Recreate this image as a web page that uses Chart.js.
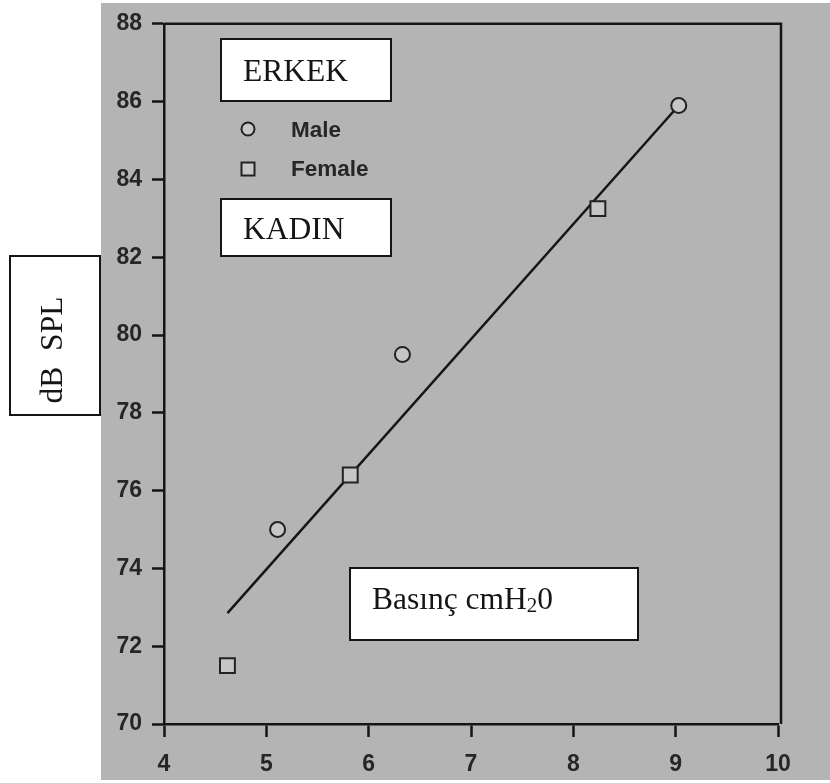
<!DOCTYPE html>
<html>
<head>
<meta charset="utf-8">
<script src="https://cdn.jsdelivr.net/npm/chart.js@4.4.1/dist/chart.umd.min.js"></script>
<style>
html, body { margin: 0; padding: 0; background: #fff; }
</style>
</head>
<body>
<canvas id="myChart" width="830" height="783"></canvas>
<script>
// values
const maleX = [5.11, 6.33, 9.03];
const maleY = [75.0, 79.5, 85.9];
const femaleX = [4.62, 5.82, 8.24];
const femaleY = [71.5, 76.4, 83.25];
const fitX = [4.62, 9.03];
const fitY = [72.85, 85.9];
const xTicks = [4, 5, 6, 7, 8, 9, 10];
const yTicks = [70, 72, 74, 76, 78, 80, 82, 84, 86, 88];

const pts = (xs, ys) => xs.map((x, i) => ({ x: x, y: ys[i] }));

const ink = '#151515';
const paper = '#b4b4b4';

// gray scanned page + frame
const pagePlugin = {
    id: 'page',
    beforeDraw(chart) {
        const c = chart.ctx;
        c.save();
        c.fillStyle = '#fff';
        c.fillRect(0, 0, chart.width, chart.height);
        c.fillStyle = paper;
        c.fillRect(101, 3, chart.width - 101, 777);
        c.restore();
    },
    afterDraw(chart) {
        const a = chart.chartArea;
        const c = chart.ctx;
        c.save();
        c.strokeStyle = ink;
        c.lineWidth = 2.5;
        c.beginPath();
        c.moveTo(a.left, a.top);
        c.lineTo(a.right + 3, a.top);
        c.lineTo(a.right + 3, a.bottom);
        c.stroke();
        c.restore();
    }
};

function box(c, x, y, w, h) {
    c.fillStyle = '#fff';
    c.fillRect(x, y, w, h);
    c.strokeStyle = ink;
    c.lineWidth = 2;
    c.strokeRect(x, y, w, h);
}

// white label boxes and the legend drawn inside the plot
const notesPlugin = {
    id: 'notes',
    afterDraw(chart) {
        const c = chart.ctx;
        const serif = '31.5px "Liberation Serif"';
        c.save();
        c.textBaseline = 'alphabetic';
        c.textAlign = 'left';

        box(c, 221, 39, 170, 62);
        c.fillStyle = ink;
        c.font = serif;
        c.fillText('ERKEK', 243, 81);

        box(c, 221, 199, 170, 57);
        c.fillStyle = ink;
        c.fillText('KADIN', 243, 239);

        box(c, 350, 568, 288, 72);
        c.fillStyle = ink;
        c.fillText('Basınç cmH', 372, 609);
        let w = c.measureText('Basınç cmH').width;
        c.font = '21px "Liberation Serif"';
        c.fillText('2', 372 + w, 612);
        let w2 = c.measureText('2').width;
        c.font = serif;
        c.fillText('0', 372 + w + w2, 609);

        box(c, 10, 256, 90, 159);
        c.save();
        c.translate(62, 350);
        c.rotate(-Math.PI / 2);
        c.textAlign = 'center';
        c.fillStyle = ink;
        c.fillText('dB  SPL', 0, 0);
        c.restore();

        // legend
        const ds = chart.data.datasets;
        c.lineWidth = 2;
        c.strokeStyle = '#222';
        c.fillStyle = '#c6c6c6';
        c.beginPath();
        c.arc(248, 129, 6.5, 0, Math.PI * 2);
        c.fill();
        c.stroke();
        c.fillRect(241.5, 162.5, 13, 13);
        c.strokeRect(241.5, 162.5, 13, 13);
        c.fillStyle = '#262626';
        c.font = 'bold 22.5px "Liberation Sans"';
        c.textBaseline = 'middle';
        c.fillText(ds[0].label, 291, 131);
        c.fillText(ds[1].label, 291, 170);
        c.restore();
    }
};

const tickFont = { family: 'Liberation Sans', size: 23, weight: 'bold' };

new Chart(document.getElementById('myChart'), {
    type: 'scatter',
    data: {
        datasets: [{
            label: 'Male',
            data: pts(maleX, maleY),
            pointStyle: 'circle',
            pointRadius: 7.5,
            borderWidth: 2,
            borderColor: '#222',
            backgroundColor: '#c6c6c6'
        }, {
            label: 'Female',
            data: pts(femaleX, femaleY),
            pointStyle: 'rect',
            pointRadius: 10.5,
            borderWidth: 2,
            borderColor: '#222',
            backgroundColor: '#c6c6c6'
        }, {
            label: 'Fit',
            type: 'line',
            data: pts(fitX, fitY),
            showLine: true,
            pointRadius: 0,
            borderWidth: 2.5,
            borderColor: ink,
            fill: false
        }]
    },
    options: {
        responsive: false,
        animation: false,
        layout: { padding: { top: 22, right: 52, bottom: 0, left: 0 } },
        plugins: {
            legend: { display: false },
            tooltip: { enabled: false }
        },
        scales: {
            x: {
                type: 'linear',
                min: 4,
                max: 10,
                afterBuildTicks: s => { s.ticks = xTicks.map(v => ({ value: v })); },
                afterFit: s => { s.height = 59; },
                grid: { drawOnChartArea: false, drawTicks: true, tickLength: 13, tickWidth: 2.5, tickColor: ink },
                border: { display: true, color: ink, width: 2.5 },
                ticks: { font: tickFont, color: '#262626', padding: 14, maxRotation: 0 }
            },
            y: {
                type: 'linear',
                min: 70,
                max: 88,
                afterBuildTicks: s => { s.ticks = yTicks.map(v => ({ value: v })); },
                afterFit: s => { s.width = 164; },
                grid: { drawOnChartArea: false, drawTicks: true, tickLength: 12, tickWidth: 2.5, tickColor: ink },
                border: { display: true, color: ink, width: 2.5 },
                ticks: { font: tickFont, color: '#262626', padding: 10 }
            }
        }
    },
    plugins: [pagePlugin, notesPlugin]
});
</script>
</body>
</html>
